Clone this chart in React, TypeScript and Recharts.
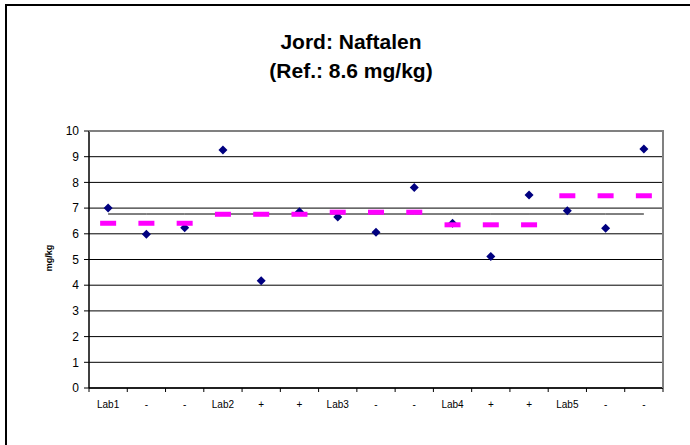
import React from "react";
import {
  ComposedChart,
  Scatter,
  Line,
  XAxis,
  YAxis,
  CartesianGrid,
} from "recharts";

const categories = ["Lab1", "-", "-", "Lab2", "+", "+", "Lab3", "-", "-", "Lab4", "+", "+", "Lab5", "-", "-"];
const results = [7.0, 5.98, 6.24, 9.26, 4.17, 6.86, 6.65, 6.06, 7.8, 6.41, 5.12, 7.51, 6.9, 6.22, 9.3];
const labMeans = [6.41, 6.41, 6.41, 6.76, 6.76, 6.76, 6.84, 6.84, 6.84, 6.35, 6.35, 6.35, 7.48, 7.48, 7.48];
const overallMean = [6.77, 6.77, 6.77, 6.77, 6.77, 6.77, 6.77, 6.77, 6.77, 6.77, 6.77, 6.77, 6.77, 6.77, 6.77];
const yTicks = [0, 1, 2, 3, 4, 5, 6, 7, 8, 9, 10];

const data = categories.map((name, i) => ({
  name,
  result: results[i],
  labMean: labMeans[i],
  mean: overallMean[i],
}));

const W = 690;
const H = 445;
const LEFT = 89;
const RIGHT = 27;
const TOP = 131;
const XAXIS_H = 57;
const AXIS_Y = H - XAXIS_H;
const BAND = (W - LEFT - RIGHT) / categories.length;
const FONT = "'Liberation Sans', Arial, sans-serif";

// diamond marker for each lab result
function Diamond(props: any) {
  const { cx, cy } = props;
  const r = 4.5;
  return (
    <polygon
      points={`${cx},${cy - r} ${cx + r},${cy} ${cx},${cy + r} ${cx - r},${cy}`}
      fill="#000080"
    />
  );
}

// short bar for the lab mean
function Dash(props: any) {
  const { cx, cy } = props;
  return <rect x={cx - 8} y={cy - 2.5} width={16} height={5} fill="#FF00FF" />;
}

// category label with tick marks on the band boundaries
function XTick(props: any) {
  const { x, payload, index } = props;
  const left = x - BAND / 2;
  return (
    <g>
      <line x1={left} y1={AXIS_Y} x2={left} y2={AXIS_Y + 4} stroke="#000" />
      {index === categories.length - 1 && (
        <line x1={left + BAND} y1={AXIS_Y} x2={left + BAND} y2={AXIS_Y + 4} stroke="#000" />
      )}
      <text x={x} y={AXIS_Y + 20} textAnchor="middle" fontSize={10} fontFamily={FONT} fill="#000">
        {payload.value}
      </text>
    </g>
  );
}

export default function App() {
  return (
    <div
      style={{
        position: "absolute",
        left: 0,
        top: 0,
        width: W,
        height: H,
        background: "#fff",
        overflow: "hidden",
      }}
    >
      <div
        style={{
          position: "absolute",
          left: 5,
          top: 4,
          width: W + 20,
          height: H + 20,
          borderLeft: "2px solid #000",
          borderTop: "2px solid #000",
          boxSizing: "border-box",
        }}
      />
      <ComposedChart
        width={W}
        height={H}
        data={data}
        margin={{ top: TOP, right: RIGHT, bottom: 0, left: 0 }}
      >
        <CartesianGrid horizontal vertical={false} stroke="#000" />
        <XAxis
          dataKey="name"
          interval={0}
          height={XAXIS_H}
          padding={{ left: BAND / 2, right: BAND / 2 }}
          tickLine={false}
          axisLine={{ stroke: "#000", strokeWidth: 1.5 }}
          tick={<XTick />}
        />
        <YAxis
          width={LEFT}
          domain={[0, 10]}
          ticks={yTicks}
          interval={0}
          tickSize={5}
          tickMargin={5}
          axisLine={{ stroke: "#000", strokeWidth: 1.5 }}
          tickLine={{ stroke: "#000" }}
          tick={{ fill: "#000", fontSize: 12, fontFamily: FONT }}
        />
        <Line
          dataKey="mean"
          stroke="#000"
          strokeWidth={1}
          dot={false}
          activeDot={false}
          isAnimationActive={false}
        />
        <Scatter dataKey="result" shape={<Diamond />} isAnimationActive={false} />
        <Scatter dataKey="labMean" shape={<Dash />} isAnimationActive={false} />
      </ComposedChart>
      <svg
        width={W}
        height={H}
        style={{ position: "absolute", left: 0, top: 0, pointerEvents: "none" }}
      >
        {/* gray frame on the top and right of the plot area */}
        <polyline
          points={`${LEFT},${TOP} ${W - RIGHT},${TOP} ${W - RIGHT},${AXIS_Y}`}
          fill="none"
          stroke="#808080"
          strokeWidth={2}
        />
        <text x={351} y={49} textAnchor="middle" fontSize={21} fontWeight="bold" fontFamily={FONT} fill="#000">
          Jord: Naftalen
        </text>
        <text x={351} y={77.5} textAnchor="middle" fontSize={21} fontWeight="bold" fontFamily={FONT} fill="#000">
          (Ref.: 8.6 mg/kg)
        </text>
        <text
          x={49}
          y={258}
          transform="rotate(-90 49 258)"
          textAnchor="middle"
          dominantBaseline="central"
          fontSize={9}
          fontWeight="bold"
          fontFamily={FONT}
          fill="#000"
        >
          mg/kg
        </text>
      </svg>
    </div>
  );
}
